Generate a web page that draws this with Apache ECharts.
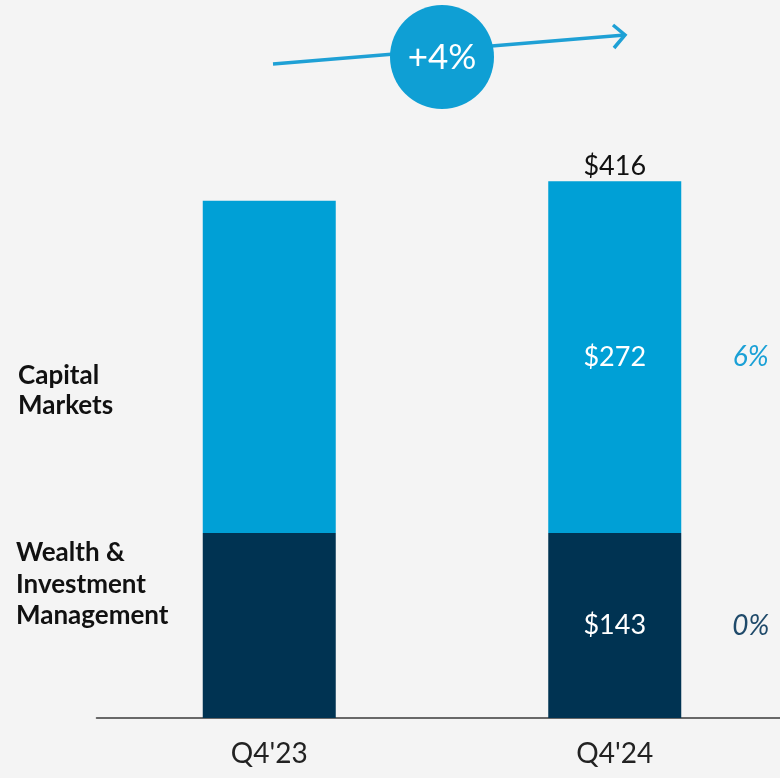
<!DOCTYPE html>
<html><head><meta charset="utf-8">
<script src="https://cdn.jsdelivr.net/npm/echarts@6/dist/echarts.min.js"></script>
<style>html,body{margin:0;padding:0;background:#f4f4f4}#c{width:780px;height:778px}</style>
</head><body><div id="c"></div>
<script>
const categories = ["Q4'23", "Q4'24"];
const wealthMgmt = [143, 143];
const capitalMarkets = [257, 272];
const totals = [400, 416];
const showLabels = [false, true];
const growthCM = '6%';
const growthWIM = '0%';
const growthTotal = '+4%';

const FONT = 'Lato';
const chart = echarts.init(document.getElementById('c'));
const option = {
  backgroundColor: '#f4f4f4',
  animation: false,
  grid: { left: 96.5, width: 691, top: 71.4, bottom: 60, containLabel: false, outerBoundsMode: 'none' },
  xAxis: {
    type: 'category', data: categories,
    axisLine: { lineStyle: { color: '#3a3a3a', width: 1.5 } },
    axisTick: { show: false },
    axisLabel: { color: '#222', fontFamily: FONT, fontSize: 28, margin: 22 }
  },
  yAxis: { type: 'value', min: 0, max: 500, show: false, splitLine: { show: false } },
  series: [
    {
      name: 'Wealth & Investment Management', type: 'bar', stack: 's', barWidth: 133,
      itemStyle: { color: '#003352' },
      data: wealthMgmt.map((v, i) => ({ value: v, label: { show: showLabels[i] } })),
      label: { position: 'inside', color: '#fff', fontFamily: FONT, fontSize: 27, formatter: p => '$' + p.value }
    },
    {
      name: 'Capital Markets', type: 'bar', stack: 's', barWidth: 133,
      itemStyle: { color: '#00a0d6' },
      data: capitalMarkets.map((v, i) => ({ value: v, label: { show: showLabels[i] } })),
      label: { position: 'inside', color: '#fff', fontFamily: FONT, fontSize: 27, formatter: p => '$' + p.value }
    },
    {
      name: 'Total', type: 'bar', stack: 's', barWidth: 133,
      itemStyle: { color: 'transparent' },
      data: totals.map((v, i) => ({ value: 0, label: { show: showLabels[i] } })),
      label: { position: 'top', distance: 2, color: '#111', fontFamily: FONT, fontSize: 27,
        formatter: p => '$' + totals[p.dataIndex] }
    }
  ]
};
chart.setOption(option);

const i2 = 1;
const xPx = chart.convertToPixel({ gridIndex: 0 }, [categories[i2], 0])[0];
const yCM = chart.convertToPixel({ gridIndex: 0 }, [categories[i2], wealthMgmt[i2] + capitalMarkets[i2] / 2])[1];
const yWIM = chart.convertToPixel({ gridIndex: 0 }, [categories[i2], wealthMgmt[i2] / 2])[1];
const legendFont = 'bold 26px ' + FONT;
chart.setOption({
  graphic: [
    { type: 'text', left: 18, top: 361, style: { text: 'Capital\nMarkets', font: legendFont, fill: '#111', lineHeight: 30 } },
    { type: 'text', left: 16, top: 537, style: { text: 'Wealth &\nInvestment\nManagement', font: legendFont, fill: '#111', lineHeight: 31.5 } },
    { type: 'text', x: xPx + 136, y: yCM, style: { text: growthCM, font: 'italic 28px ' + FONT, fill: '#1aa0d6', align: 'center', verticalAlign: 'middle' } },
    { type: 'text', x: xPx + 136, y: yWIM, style: { text: growthWIM, font: 'italic 28px ' + FONT, fill: '#1f4a6a', align: 'center', verticalAlign: 'middle' } },
    { type: 'line', shape: { x1: 273, y1: 64, x2: 625, y2: 35 }, style: { stroke: '#1ea0d5', lineWidth: 3.5 } },
    { type: 'polyline', shape: { points: [[613, 25], [625, 35], [614, 48]] }, style: { stroke: '#1ea0d5', lineWidth: 3.5, fill: null } },
    { type: 'circle', shape: { cx: 442, cy: 57, r: 52 }, style: { fill: '#0f9fd4' } },
    { type: 'text', x: 442, y: 58, style: { text: growthTotal, font: '35px ' + FONT, fill: '#fff', align: 'center', verticalAlign: 'middle' } }
  ]
});
</script></body></html>
